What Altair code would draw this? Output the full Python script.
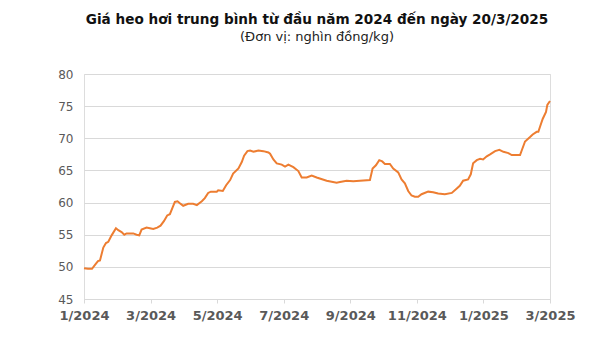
import altair as alt
import pandas as pd

# position in months since 1/2024 (axis is evenly spaced every 2 months)
month_pos = [0, 0.12, 0.24, 0.33, 0.42, 0.48, 0.58, 0.66, 0.73, 0.83, 0.96, 1.03, 1.13, 1.21, 1.28,
             1.48, 1.58, 1.66, 1.73, 1.88, 1.98, 2.08, 2.20, 2.30, 2.40, 2.50, 2.58, 2.66, 2.73, 2.81,
             2.88, 2.98, 3.13, 3.28, 3.39, 3.54, 3.63, 3.73, 3.81, 3.99, 4.03, 4.17, 4.27, 4.39, 4.48,
             4.64, 4.74, 4.81, 4.91, 4.99, 5.09, 5.24, 5.39, 5.54, 5.59, 5.69, 5.79, 5.94, 6.04, 6.14,
             6.29, 6.44, 6.54, 6.69, 6.84, 6.99, 7.29, 7.59, 7.69, 7.89, 8.09, 8.29, 8.59, 8.67, 8.77,
             8.87, 8.96, 9.04, 9.19, 9.29, 9.44, 9.54, 9.64, 9.74, 9.84, 9.94, 10.04, 10.14, 10.34,
             10.49, 10.64, 10.84, 11.05, 11.20, 11.29, 11.39, 11.54, 11.62, 11.69, 11.80, 11.90, 11.99,
             12.10, 12.20, 12.35, 12.48, 12.60, 12.75, 12.85, 13.10, 13.15, 13.25, 13.40, 13.48, 13.60,
             13.65, 13.70, 13.78, 13.88, 13.92, 14.00]

price = [49.8, 49.7, 49.7, 50.3, 50.9, 51.0, 53.0, 53.7, 53.9, 54.9, 56.0, 55.7, 55.4, 55.0, 55.2,
         55.2, 55.0, 54.9, 55.8, 56.1, 56.0, 55.9, 56.1, 56.4, 57.1, 58.0, 58.2, 59.2, 60.1, 60.2,
         59.9, 59.5, 59.8, 59.8, 59.6, 60.2, 60.7, 61.5, 61.7, 61.7, 61.9, 61.8, 62.7, 63.5, 64.5,
         65.3, 66.3, 67.3, 68.0, 68.1, 67.9, 68.1, 68.0, 67.8, 67.6, 66.7, 66.1, 65.9, 65.6, 65.9,
         65.5, 64.9, 63.9, 63.9, 64.2, 63.9, 63.4, 63.1, 63.2, 63.4, 63.3, 63.4, 63.5, 65.3, 65.8,
         66.6, 66.4, 66.0, 66.0, 65.3, 64.7, 63.6, 63.0, 61.8, 61.1, 60.9, 60.9, 61.3, 61.7,
         61.6, 61.4, 61.3, 61.5, 62.2, 62.6, 63.4, 63.6, 64.4, 66.1, 66.6, 66.8, 66.7,
         67.2, 67.5, 68.0, 68.2, 67.9, 67.7, 67.4, 67.4, 68.1, 69.5, 70.2, 70.6, 71.0,
         71.0, 71.8, 73.0, 74.1, 75.2, 75.8]

tick_labels = ["1/2024", "3/2024", "5/2024", "7/2024", "9/2024", "11/2024", "1/2025", "3/2025"]
tick_pos = [0, 2, 4, 6, 8, 10, 12, 14]
y_ticks = [45, 50, 55, 60, 65, 70, 75, 80]

df = pd.DataFrame({"t": month_pos, "price": price})

label_expr = "[" + ",".join(f"'{l}'" for l in tick_labels) + "][round(datum.value / 2)]"

FONT = "DejaVu Sans"

chart = alt.Chart(df).mark_line(color="#ED7D31", strokeWidth=2).encode(
    x=alt.X("t:Q", scale=alt.Scale(domain=[0, 14], nice=False, zero=False),
            axis=alt.Axis(values=tick_pos, labelExpr=label_expr, title=None, grid=False,
                          domainColor="#d9d9d9", tickColor="#d9d9d9", tickSize=4,
                          labelFontWeight="bold", labelFontSize=13, labelColor="#595959",
                          labelPadding=6, labelFont=FONT, labelFlush=False)),
    y=alt.Y("price:Q", scale=alt.Scale(domain=[45, 80], nice=False, zero=False),
            axis=alt.Axis(values=y_ticks, title=None, domain=False, ticks=False,
                          gridColor="#d9d9d9", gridWidth=1, labelFontSize=12,
                          labelColor="#595959", labelPadding=11, labelFont=FONT)),
).properties(
    width=466, height=225,
    title=alt.TitleParams(
        text="Giá heo hơi trung bình từ đầu năm 2024 đến ngày 20/3/2025",
        subtitle="(Đơn vị: nghìn đồng/kg)",
        font=FONT, fontSize=13.6, fontWeight="bold", color="#111111",
        subtitleFont=FONT, subtitleFontSize=13, subtitleColor="#222222",
        subtitlePadding=4, anchor="middle", offset=24,
    ),
    autosize=alt.AutoSizeParams(type="none"),
    padding={"left": 84, "top": 74, "right": 50, "bottom": 41},
).configure_view(stroke=None).configure(background="white")

chart.save("out.html", embed_options={"renderer": "svg", "actions": False})
